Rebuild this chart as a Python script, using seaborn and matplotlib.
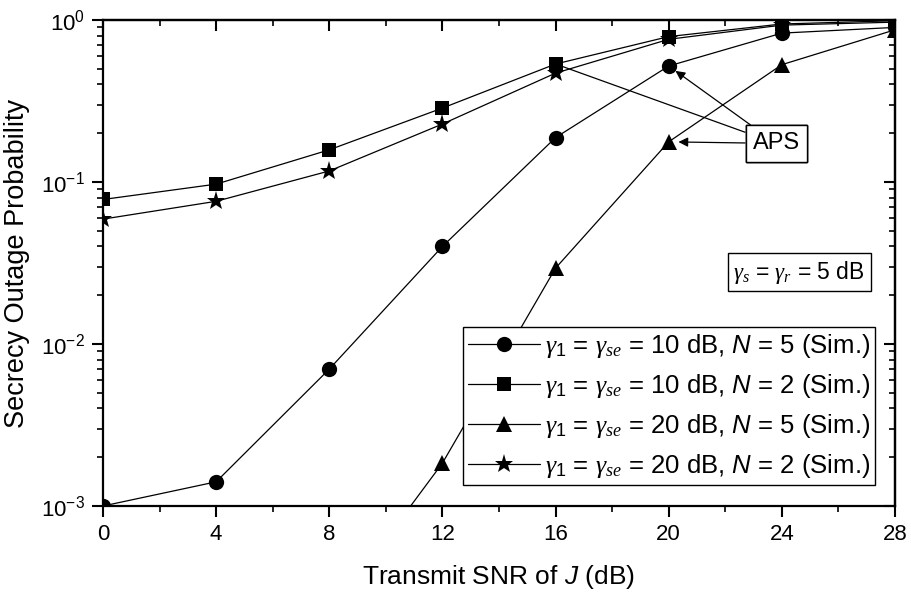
import numpy as np
import pandas as pd
import seaborn as sns
import matplotlib
matplotlib.use("Agg")
import matplotlib.pyplot as plt
from matplotlib.ticker import LogLocator, FixedLocator, NullFormatter

# Transmit SNR of the jammer (dB)
snr_j = [0, 4, 8, 12, 16, 20, 24, 28]

# Simulated secrecy outage probabilities
sop_10db_n5 = [1.0e-3, 1.41e-3, 7.0e-3, 0.040, 0.188, 0.52, 0.83, 0.90]
sop_10db_n2 = [0.078, 0.097, 0.158, 0.286, 0.535, 0.79, 0.945, 0.99]
sop_20db_n5 = [1.0e-4, 1.0e-4, 2.1e-4, 1.84e-3, 0.0294, 0.177, 0.53, 0.87]
sop_20db_n2 = [0.059, 0.076, 0.117, 0.228, 0.47, 0.76, 0.93, 0.97]

series_labels = [
    r"$\gamma_{\mathit{1}}$ = $\gamma_{se}$ = 10 dB, $\mathsf{N}$ = 5 (Sim.)",
    r"$\gamma_{\mathit{1}}$ = $\gamma_{se}$ = 10 dB, $\mathsf{N}$ = 2 (Sim.)",
    r"$\gamma_{\mathit{1}}$ = $\gamma_{se}$ = 20 dB, $\mathsf{N}$ = 5 (Sim.)",
    r"$\gamma_{\mathit{1}}$ = $\gamma_{se}$ = 20 dB, $\mathsf{N}$ = 2 (Sim.)",
]
series_values = [sop_10db_n5, sop_10db_n2, sop_20db_n5, sop_20db_n2]
series_markers = ["o", "s", "^", "*"]
series_msize = [11, 10, 11, 14]

sns.set_theme(style="ticks", rc={"text.color": "black", "axes.labelcolor": "black",
                                 "xtick.color": "black", "ytick.color": "black",
                                 "axes.edgecolor": "black"})
plt.rcParams["font.family"] = ["Liberation Sans", "DejaVu Sans"]
plt.rcParams["mathtext.fontset"] = "custom"
plt.rcParams["mathtext.rm"] = "Liberation Sans"
plt.rcParams["mathtext.it"] = "Liberation Serif:italic"
plt.rcParams["mathtext.sf"] = "Liberation Sans:italic"

fig = plt.figure(figsize=(9.11, 5.92), dpi=100)
ax = fig.add_axes([103 / 911, 1 - 506 / 592, 792 / 911, 486 / 592])

for label, vals, mk, ms in zip(series_labels, series_values, series_markers, series_msize):
    df = pd.DataFrame({"snr": snr_j, "sop": vals})
    sns.lineplot(data=df, x="snr", y="sop", ax=ax, color="black", lw=0.9,
                 marker=mk, markersize=ms, markeredgewidth=0, label=label)

ax.set_yscale("log")
ax.set_xlim(0, 28)
ax.set_ylim(1e-3, 1)
ax.set_xticks([0, 4, 8, 12, 16, 20, 24, 28])
ax.xaxis.set_minor_locator(FixedLocator([2, 6, 10, 14, 18, 22, 26]))
ax.yaxis.set_major_locator(LogLocator(base=10, numticks=10))
ax.yaxis.set_minor_locator(LogLocator(base=10, subs=np.arange(2, 10), numticks=10))
ax.yaxis.set_minor_formatter(NullFormatter())

for sp in ax.spines.values():
    sp.set_linewidth(1.6)
    sp.set_color("black")

ax.tick_params(which="major", direction="out", length=8, width=1.5, labelsize=16,
               colors="black", pad=5)
ax.tick_params(which="minor", direction="out", length=4, width=1.2, colors="black")

# Mirror ticks pointing inward on the top and right edges
top = ax.secondary_xaxis("top")
top.set_xticks([0, 4, 8, 12, 16, 20, 24, 28])
top.xaxis.set_minor_locator(FixedLocator([2, 6, 10, 14, 18, 22, 26]))
top.tick_params(which="major", direction="in", length=8, width=1.5, labeltop=False)
top.tick_params(which="minor", direction="in", length=4, width=1.2)
top.spines["top"].set_linewidth(1.6)
right = ax.secondary_yaxis("right")
right.yaxis.set_major_locator(LogLocator(base=10, numticks=10))
right.yaxis.set_minor_locator(LogLocator(base=10, subs=np.arange(2, 10), numticks=10))
right.tick_params(which="major", direction="in", length=8, width=1.5, labelright=False)
right.tick_params(which="minor", direction="in", length=4, width=1.2, labelright=False)
right.yaxis.set_minor_formatter(NullFormatter())
right.spines["right"].set_linewidth(1.6)

ax.set_xlabel(r"Transmit SNR of $\mathsf{J}$ (dB)", fontsize=19, labelpad=13)
ax.set_ylabel("Secrecy Outage Probability", fontsize=19.5, labelpad=8)

leg = ax.legend(loc="lower right", bbox_to_anchor=(0.975, 0.043), fontsize=18.5,
                frameon=True, fancybox=False, edgecolor="black", framealpha=1,
                handlelength=2.8, handletextpad=0.2, labelspacing=0.47,
                borderpad=0.2, borderaxespad=0)
leg.get_frame().set_linewidth(1.0)

ax.text(0.962, 0.481, r"$\gamma_s$ = $\gamma_r$ = 5 dB", transform=ax.transAxes,
        ha="right", va="center", fontsize=16.5,
        bbox=dict(boxstyle="square,pad=0.25", fc="white", ec="black", lw=1.0))

aps_xy = (23.8, 0.173)
aps_box = dict(boxstyle="square,pad=0.3", fc="white", ec="black", lw=1.0)
ax.annotate("APS", xy=(16, sop_10db_n2[4]), xytext=aps_xy, fontsize=17,
            ha="center", va="center", bbox=aps_box,
            arrowprops=dict(arrowstyle="-", color="black", lw=0.9, shrinkA=0, shrinkB=4))
ax.annotate("APS", xy=(20, sop_10db_n5[5]), xytext=aps_xy, fontsize=17,
            ha="center", va="center", bbox=aps_box,
            arrowprops=dict(arrowstyle="-|>", color="black", lw=0.9, mutation_scale=14,
                            shrinkA=0, shrinkB=6))
ax.annotate("APS", xy=(20, sop_20db_n5[5]), xytext=aps_xy, fontsize=17,
            ha="center", va="center", bbox=aps_box,
            arrowprops=dict(arrowstyle="-|>", color="black", lw=0.9, mutation_scale=14,
                            shrinkA=0, shrinkB=7))

fig.savefig("out.png", dpi=100)
